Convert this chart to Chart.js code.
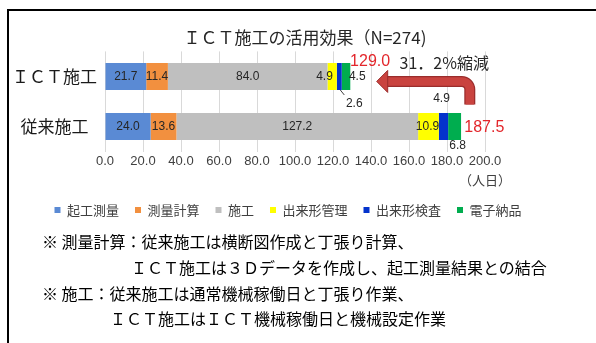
<!DOCTYPE html>
<html>
<head>
<meta charset="utf-8">
<script src="https://cdn.jsdelivr.net/npm/chart.js@4.4.0/dist/chart.umd.min.js"></script>
<style>
  html, body { margin: 0; padding: 0; background: #fff; }
  body { width: 596px; height: 343px; position: relative; overflow: hidden;
         font-family: "Noto Sans CJK JP", sans-serif; }
  #frame { position: absolute; left: 7px; top: 9px; width: 640px; height: 400px;
           border-left: 2px solid #000; border-top: 2px solid #000; }
  #c { position: absolute; left: 0; top: 0; }
  .note { position: absolute; font-size: 16px; line-height: 16px; color: #000; white-space: nowrap; }
</style>
</head>
<body>
<div id="frame"></div>
<canvas id="c" width="596" height="343"></canvas>
<div class="note" style="left:42px; top:233px;">※ 測量計算：従来施工は横断図作成と丁張り計算、</div>
<div class="note" style="left:131px; top:259px;">ＩＣＴ施工は３Ｄデータを作成し、起工測量結果との結合</div>
<div class="note" style="left:42px; top:285px;">※ 施工：従来施工は通常機械稼働日と丁張り作業、</div>
<div class="note" style="left:110px; top:310px;">ＩＣＴ施工はＩＣＴ機械稼働日と機械設定作業</div>
<script>
// --- data ---
const chartTitle = 'ＩＣＴ施工の活用効果（N=274)';
const categories = ['ＩＣＴ施工', '従来施工'];
const phases = ['起工測量', '測量計算', '施工', '出来形管理', '出来形検査', '電子納品'];
const ictDays = [21.7, 11.4, 84.0, 4.9, 2.6, 4.5];
const conventionalDays = [24.0, 13.6, 127.2, 10.9, 4.9, 6.8];
const totals = [129.0, 187.5];
const reductionLabel = '31．2%縮減';
const axisMax = 200;
const tickStep = 20;
const unitLabel = '（人日）';

// --- styling ---
const phaseColors = ['#5a8ad4', '#f2903f', '#bfbfbf', '#ffff00', '#0433cc', '#00ad4f'];
const numFont = '"Liberation Sans", Arial, sans-serif';
const jpFont = '"Noto Sans CJK JP", sans-serif';

// where each value label sits relative to its segment: [ICT, conventional]
const labelPlacement = [
  [{ at: 'center' }, { at: 'center' }],
  [{ at: 'center' }, { at: 'center' }],
  [{ at: 'center' }, { at: 'center' }],
  [{ at: 'start', dx: -3 }, { at: 'center', dx: -1 }],
  [{ at: 'below', dx: 15, dy: 14, leader: true }, { at: 'above', dx: -2, dy: 14 }],
  [{ at: 'end', dx: 7 }, { at: 'below', dx: 3, dy: 6 }]
];

const valueLabels = {
  id: 'valueLabels',
  afterDatasetsDraw(chart) {
    const ctx = chart.ctx;
    ctx.save();
    ctx.font = '12px ' + numFont;
    ctx.fillStyle = '#262626';
    ctx.textAlign = 'center';
    ctx.textBaseline = 'middle';
    chart.data.datasets.forEach((ds, i) => {
      chart.getDatasetMeta(i).data.forEach((bar, j) => {
        const p = labelPlacement[i][j];
        const left = Math.min(bar.base, bar.x), right = Math.max(bar.base, bar.x);
        const top = bar.y - bar.height / 2, bottom = bar.y + bar.height / 2;
        const cx = (left + right) / 2;
        let x = cx, y = bar.y;
        if (p.at === 'start') x = left;
        if (p.at === 'end') x = right;
        if (p.at === 'below') y = bottom + (p.dy || 0);
        if (p.at === 'above') y = top - (p.dy || 0);
        x += p.dx || 0;
        if (p.leader) {
          ctx.strokeStyle = '#404040';
          ctx.lineWidth = 1;
          ctx.beginPath();
          ctx.moveTo(cx + 1, bottom);
          ctx.lineTo(cx + 5, bottom + 5);
          ctx.stroke();
        }
        ctx.fillText(ds.data[j].toFixed(1), x, y);
      });
    });
    ctx.restore();
  }
};

const annotations = {
  id: 'annotations',
  afterDraw(chart) {
    const ctx = chart.ctx;
    const xs = chart.scales.x, ys = chart.scales.y;
    const yIct = ys.getPixelForValue(0), yConv = ys.getPixelForValue(1);
    ctx.save();

    // stack totals
    ctx.font = '16px ' + numFont;
    ctx.fillStyle = '#e3262b';
    ctx.textAlign = 'left';
    ctx.textBaseline = 'middle';
    ctx.fillText(totals[0].toFixed(1), xs.getPixelForValue(totals[0]), yIct - 15);
    ctx.fillText(totals[1].toFixed(1), xs.getPixelForValue(totals[1]) + 3, yConv + 1);

    // reduction note
    ctx.font = '16px ' + jpFont;
    ctx.fillStyle = '#262626';
    ctx.fillText(reductionLabel, xs.getPixelForValue(155), yIct - 14);

    // bent arrow from the conventional total towards the ICT total
    const vx = xs.getPixelForValue(192);
    const bodyY = yIct + 5;
    const bottomY = (yIct + yConv) / 2 + 3;
    const tipX = xs.getPixelForValue(143);
    const headBase = tipX + 10;
    const r = 8;
    const path = () => {
      ctx.beginPath();
      ctx.moveTo(vx, bottomY);
      ctx.lineTo(vx, bodyY + r);
      ctx.arcTo(vx, bodyY, vx - r, bodyY, r);
      ctx.lineTo(headBase, bodyY);
    };
    ctx.lineCap = 'butt';
    ctx.lineJoin = 'round';
    path(); ctx.strokeStyle = '#9a2d2c'; ctx.lineWidth = 11; ctx.stroke();
    path(); ctx.strokeStyle = '#c9433f'; ctx.lineWidth = 8.5; ctx.stroke();
    ctx.beginPath();
    ctx.moveTo(headBase + 1, bodyY - 11);
    ctx.lineTo(tipX, bodyY);
    ctx.lineTo(headBase + 1, bodyY + 11);
    ctx.closePath();
    ctx.fillStyle = '#c9433f';
    ctx.fill();
    ctx.strokeStyle = '#9a2d2c';
    ctx.lineWidth = 1;
    ctx.stroke();

    // unit under the last tick
    ctx.font = '13px ' + jpFont;
    ctx.fillStyle = '#404040';
    ctx.textAlign = 'center';
    ctx.fillText(unitLabel, xs.getPixelForValue(axisMax), chart.chartArea.bottom + 29);
    ctx.restore();
  }
};

// nudge the legend row left so it sits under the plot
const legendShift = {
  id: 'legendShift',
  afterLayout(chart) {
    if (chart.legend) { chart.legend.left -= 17; chart.legend.right -= 17; }
  }
};

new Chart(document.getElementById('c'), {
  type: 'bar',
  data: {
    labels: categories,
    datasets: phases.map((name, k) => ({
      label: name,
      data: [ictDays[k], conventionalDays[k]],
      backgroundColor: phaseColors[k],
      borderWidth: 0,
      barPercentage: 0.54,
      categoryPercentage: 1
    }))
  },
  options: {
    indexAxis: 'y',
    responsive: false,
    animation: false,
    devicePixelRatio: 1,
    layout: { padding: { left: 14, right: 0, top: 0, bottom: 116.5 } },
    scales: {
      x: {
        stacked: true, min: 0, max: axisMax,
        ticks: { stepSize: tickStep, callback: v => Number(v).toFixed(1), autoSkip: false, maxRotation: 0,
                 font: { family: numFont, size: 13 }, color: '#404040', padding: 2 },
        grid: { color: '#d9d9d9', drawTicks: false },
        border: { display: false },
        afterFit(s) { s.height = 36; }
      },
      y: {
        stacked: true,
        grid: { display: false },
        border: { display: false },
        ticks: { font: { family: jpFont, size: 17 }, color: '#1a1a1a', crossAlign: 'center', padding: 0 },
        afterFit(s) { s.width = 91; }
      },
      gutter: {
        type: 'category', labels: categories, position: 'right',
        grid: { display: false }, border: { display: false }, ticks: { display: false },
        afterFit(s) { s.width = 111; }
      }
    },
    plugins: {
      title: {
        display: true, text: chartTitle, color: '#262626',
        font: { family: jpFont, size: 17, weight: 'normal' },
        padding: { top: 27, bottom: 4 }
      },
      legend: {
        position: 'bottom',
        labels: { boxWidth: 6, boxHeight: 6, padding: 16, color: '#404040',
                  font: { family: jpFont, size: 13 } }
      },
      tooltip: { enabled: false }
    }
  },
  plugins: [valueLabels, annotations, legendShift]
});
</script>
</body>
</html>
